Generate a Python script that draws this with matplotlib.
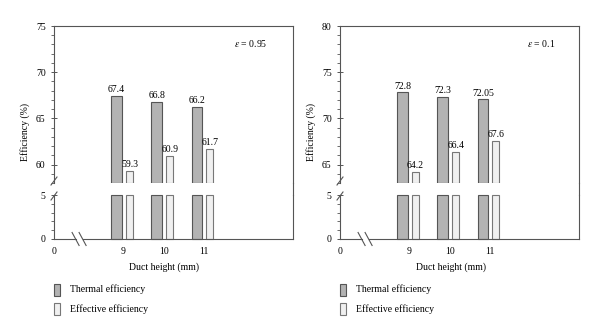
import numpy as np
import matplotlib.pyplot as plt
from matplotlib.patches import Rectangle
from matplotlib.lines import Line2D
from matplotlib.ticker import MultipleLocator

plt.rcParams['font.family'] = ['Liberation Serif', 'DejaVu Serif']
plt.rcParams['mathtext.fontset'] = 'stix'
plt.rcParams['font.size'] = 7

duct = [9, 10, 11]
thermal_095 = [67.4, 66.8, 66.2]
effective_095 = [59.3, 60.9, 61.7]
thermal_01 = [72.8, 72.3, 72.05]
effective_01 = [64.2, 66.4, 67.6]
eps_labels = [r'$\varepsilon$ = 0.95', r'$\varepsilon$ = 0.1']
upper_lims = [(58, 75), (63, 80)]

W, H = 600, 336
fig = plt.figure(figsize=(6, 3.36), dpi=100)

GRAY = '#b3b3b3'
LIGHT = '#f0f0f0'
EDGE_T = '#555555'
EDGE_E = '#777777'
AX_C = '#555555'


def fx(px):
    return px / W


def fy(py):
    return 1 - py / H


def panel(x0, x1, thermal, effective, ylim, eps, xlab_px, ylab_px):
    top, brk_hi, brk_lo, base = 26, 183, 195, 239
    ax_u = fig.add_axes([fx(x0), fy(brk_hi), fx(x1 - x0), (brk_hi - top) / H])
    ax_l = fig.add_axes([fx(x0), fy(base), fx(x1 - x0), (base - brk_lo) / H])
    xlim = (7.27, 13.22)
    pos = np.array(duct, dtype=float)
    th = np.array(thermal)
    ef = np.array(effective)
    wt, we = 0.27, 0.17
    ot, oe = -0.17, 0.15

    # upper part of the broken axis
    ax_u.bar(pos + ot, th - ylim[0], bottom=ylim[0], width=wt, color=GRAY,
             edgecolor=EDGE_T, linewidth=0.8)
    ax_u.bar(pos + oe, ef - ylim[0], bottom=ylim[0], width=we, color=LIGHT,
             edgecolor=EDGE_E, linewidth=0.8)
    for p, v in zip(pos + ot, th):
        ax_u.text(p, v + 0.2, f'{v:g}', ha='center', va='bottom', fontsize=7)
    for p, v in zip(pos + oe, ef):
        ax_u.text(p, v + 0.2, f'{v:g}', ha='center', va='bottom', fontsize=7)
    ax_u.set_ylim(*ylim)
    ax_u.set_xlim(*xlim)
    ax_u.yaxis.set_major_locator(MultipleLocator(5))
    ax_u.yaxis.set_minor_locator(MultipleLocator(1))
    ax_u.set_xticks([])
    ax_u.spines['bottom'].set_visible(False)
    ax_u.text(eps[1], 0.89, eps[0], transform=ax_u.transAxes, ha='center',
              va='center', fontsize=7)

    # lower part
    ax_l.bar(pos + ot, np.minimum(th, 5), width=wt, color=GRAY,
             edgecolor=EDGE_T, linewidth=0.8, clip_on=False)
    ax_l.bar(pos + oe, np.minimum(ef, 5), width=we, color=LIGHT,
             edgecolor=EDGE_E, linewidth=0.8, clip_on=False)
    ax_l.set_ylim(0, 5)
    ax_l.set_xlim(*xlim)
    ax_l.yaxis.set_major_locator(MultipleLocator(5))
    ax_l.yaxis.set_minor_locator(MultipleLocator(1))
    ax_l.set_xticks([xlim[0]] + duct)
    ax_l.set_xticklabels(['0'] + [str(d) for d in duct])
    ax_l.tick_params(axis='x', length=0, pad=6)
    ax_l.spines['top'].set_visible(False)
    ax_l.spines['bottom'].set_visible(False)

    for ax in (ax_u, ax_l):
        for s in ax.spines.values():
            s.set_color(AX_C)
            s.set_linewidth(0.8)
        ax.tick_params(axis='y', which='major', direction='inout', length=5,
                       width=0.7, color=AX_C, pad=3.5)
        ax.tick_params(axis='y', which='minor', direction='out', length=2.5,
                       width=0.6, color=AX_C)

    # baseline with the x-axis break
    bx = 0.105
    d = 3.5 / (x1 - x0)
    ax_l.plot([0, bx - d], [0, 0], color=AX_C, lw=0.8, transform=ax_l.transAxes,
              clip_on=False)
    ax_l.plot([bx + d, 1], [0, 0], color=AX_C, lw=0.8, transform=ax_l.transAxes,
              clip_on=False)
    for c in (x0 + (x1 - x0) * bx - 3.5, x0 + (x1 - x0) * bx + 3.5):
        fig.add_artist(Line2D([fx(c - 3.5), fx(c + 3.5)], [fy(base - 6.5), fy(base + 6.5)],
                              color=AX_C, lw=0.8))

    # right spine across the gap, break marks on the left spine
    fig.add_artist(Line2D([fx(x1), fx(x1)], [fy(brk_hi), fy(brk_lo)], color=AX_C, lw=0.8))
    for yb in (brk_hi - 2, brk_lo + 1):
        fig.add_artist(Line2D([fx(x0 - 3), fx(x0 + 3)], [fy(yb + 4), fy(yb - 4)],
                              color=AX_C, lw=0.8))

    fig.text(fx(xlab_px), fy(267), 'Duct height (mm)', ha='center', va='center')
    fig.text(fx(ylab_px), fy(132), 'Efficiency (%)', rotation=90,
             ha='center', va='center')

    # legend
    for (yc, fc, ec, name) in ((289.5, GRAY, EDGE_T, 'Thermal efficiency'),
                               (309, LIGHT, EDGE_E, 'Effective efficiency')):
        fig.add_artist(Rectangle((fx(x0), fy(yc + 6)), fx(5.5), 12 / H,
                                 facecolor=fc, edgecolor=ec, lw=0.8))
        fig.text(fx(x0 + 16), fy(yc), name, ha='left', va='center')


panel(54, 293, thermal_095, effective_095, upper_lims[0], (eps_labels[0], 0.825), 164, 25)
panel(340, 579, thermal_01, effective_01, upper_lims[1], (eps_labels[1], 0.843), 451, 311)

fig.savefig('out.png', dpi=100)
